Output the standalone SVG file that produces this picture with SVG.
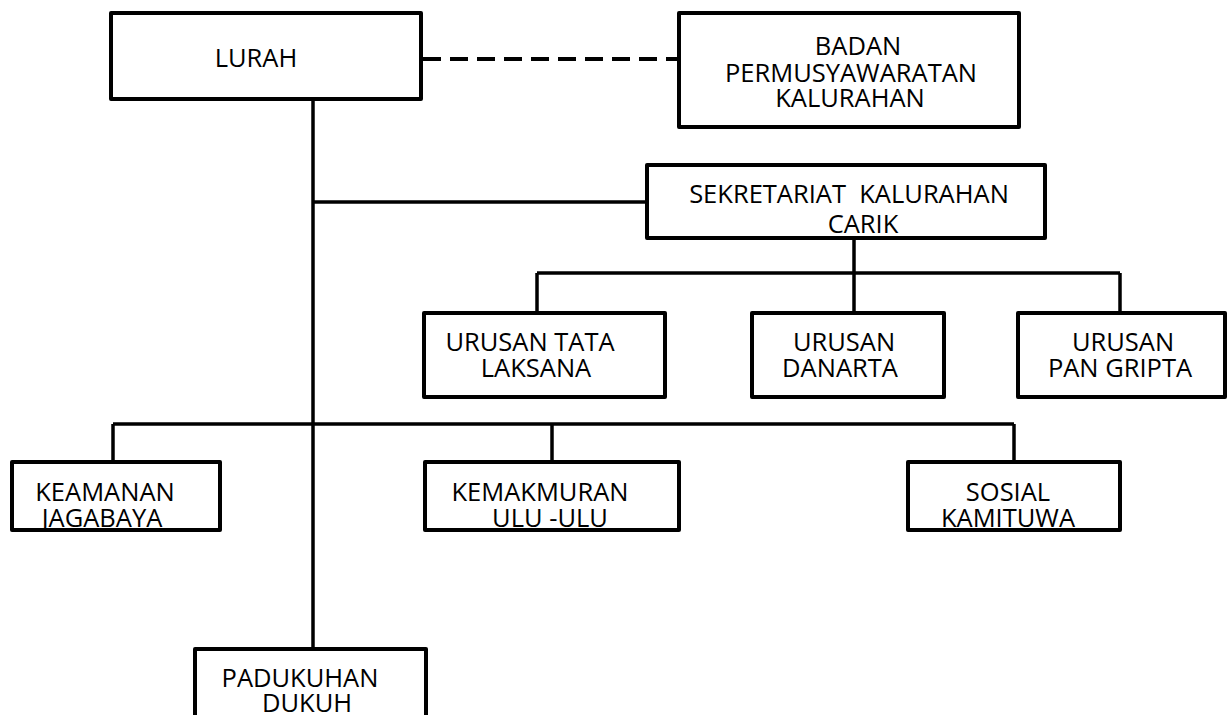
<svg xmlns="http://www.w3.org/2000/svg" width="1230" height="715" viewBox="0 0 1230 715">
<style>
.box{fill:#fff;stroke:#000;stroke-width:4;stroke-linejoin:round}
.ln{fill:none;stroke:#000;stroke-width:3.5}
.dash{fill:none;stroke:#000;stroke-width:4;stroke-dasharray:18 9}
text{font-family:"Open Sans","Noto Sans","Liberation Sans",sans-serif;font-size:25.5px;fill:#000;text-anchor:middle}
</style>
<rect width="1230" height="715" fill="#fff"/>
<g id="connectors">
<path class="dash" d="M423,59 H679"/>
<path class="ln" d="M313,99 V649"/>
<path class="ln" d="M313,202 H647"/>
<path class="ln" d="M854,238 V313"/>
<path class="ln" d="M537,273 H1120"/>
<path class="ln" d="M537,273 V313"/>
<path class="ln" d="M1120,273 V313"/>
<path class="ln" d="M113,424 H1014"/>
<path class="ln" d="M113,424 V462"/>
<path class="ln" d="M552,424 V462"/>
<path class="ln" d="M1014,424 V462"/>
</g>
<g id="lurah">
<rect class="box" x="111" y="13" width="310" height="86"/>
<text x="256" y="67">LURAH</text>
</g>
<g id="bpk">
<rect class="box" x="679" y="13" width="340" height="114"/>
<text x="858" y="55">BADAN</text>
<text x="851" y="82">PERMUSYAWARATAN</text>
<text x="850" y="107">KALURAHAN</text>
</g>
<g id="sekretariat">
<rect class="box" x="647" y="165" width="398" height="73"/>
<text x="849" y="203" xml:space="preserve">SEKRETARIAT  KALURAHAN</text>
<text x="863" y="233">CARIK</text>
</g>
<g id="tata-laksana">
<rect class="box" x="424" y="313" width="241" height="84"/>
<text x="530" y="351">URUSAN TATA</text>
<text x="536" y="377">LAKSANA</text>
</g>
<g id="danarta">
<rect class="box" x="752" y="313" width="192" height="84"/>
<text x="844" y="351">URUSAN</text>
<text x="840" y="377">DANARTA</text>
</g>
<g id="pangripta">
<rect class="box" x="1018" y="313" width="207" height="84"/>
<text x="1123" y="351">URUSAN</text>
<text x="1120" y="377">PAN GRIPTA</text>
</g>
<g id="keamanan">
<rect class="box" x="12" y="462" width="208" height="68"/>
<text x="105" y="501">KEAMANAN</text>
<text x="102" y="527">JAGABAYA</text>
</g>
<g id="kemakmuran">
<rect class="box" x="425" y="462" width="254" height="68"/>
<text x="540" y="501">KEMAKMURAN</text>
<text x="550" y="527">ULU -ULU</text>
</g>
<g id="sosial">
<rect class="box" x="908" y="462" width="212" height="68"/>
<text x="1008" y="501">SOSIAL</text>
<text x="1008" y="527">KAMITUWA</text>
</g>
<g id="padukuhan">
<rect class="box" x="195" y="649" width="231" height="100"/>
<text x="300" y="687">PADUKUHAN</text>
<text x="307" y="712">DUKUH</text>
</g>
</svg>
